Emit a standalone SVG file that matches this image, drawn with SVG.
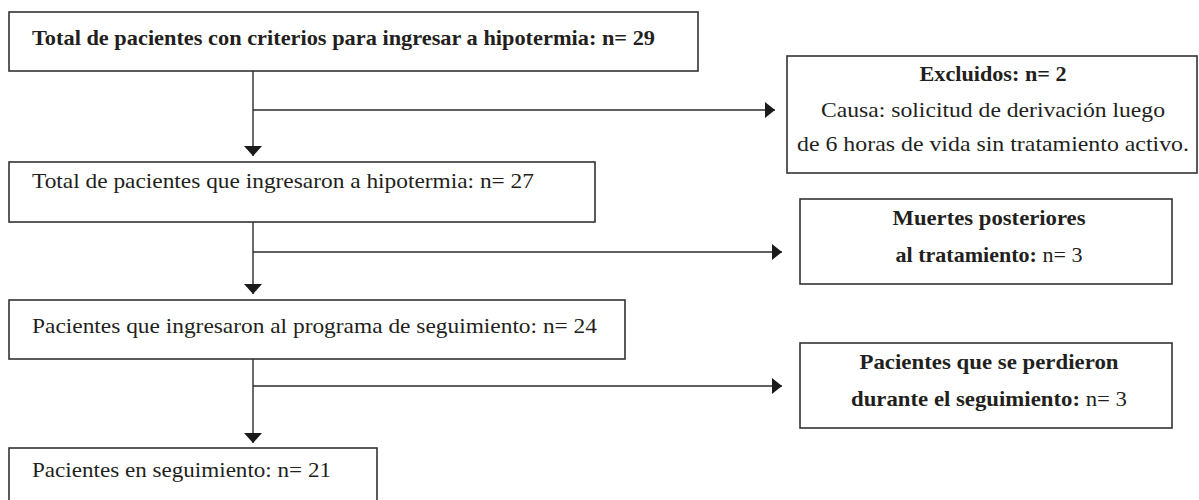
<svg xmlns="http://www.w3.org/2000/svg" width="1199" height="500" viewBox="0 0 1199 500">
<style>
  .box { fill: #ffffff; stroke: #333333; stroke-width: 1.6; }
  .t { font-family: "Liberation Serif", "Times New Roman", serif; font-size: 21px; fill: #231f20; }
  .b { font-weight: bold; }
  .m { text-anchor: middle; }
  .c { stroke: #2b2b2b; stroke-width: 1.4; fill: none; }
</style>
<defs>
  <marker id="ad" markerUnits="userSpaceOnUse" markerWidth="18" markerHeight="10" refX="9" refY="10" orient="0" viewBox="0 0 18 10">
    <path d="M0,0 L18,0 L9,10 Z" fill="#1a1a1a"/>
  </marker>
  <marker id="ar" markerUnits="userSpaceOnUse" markerWidth="10" markerHeight="16" refX="10" refY="8" orient="0" viewBox="0 0 10 16">
    <path d="M0,0 L10,8 L0,16 Z" fill="#1a1a1a"/>
  </marker>
</defs>
<rect width="1199" height="500" fill="#ffffff"/>

<g id="connectors">
  <line class="c" x1="253" y1="71" x2="253" y2="156" marker-end="url(#ad)"/>
  <line class="c" x1="253" y1="110" x2="775" y2="110" marker-end="url(#ar)"/>
  <line class="c" x1="253" y1="222" x2="253" y2="294" marker-end="url(#ad)"/>
  <line class="c" x1="253" y1="252" x2="782" y2="252" marker-end="url(#ar)"/>
  <line class="c" x1="253" y1="359" x2="253" y2="443" marker-end="url(#ad)"/>
  <line class="c" x1="253" y1="386" x2="782" y2="386" marker-end="url(#ar)"/>
</g>

<g id="total-criterios">
  <rect class="box" x="9" y="12" width="689" height="59"/>
  <text class="t b" x="32" y="45" textLength="623" lengthAdjust="spacingAndGlyphs">Total de pacientes con criterios para ingresar a hipotermia: n= 29</text>
</g>

<g id="excluidos">
  <rect class="box" x="787" y="56" width="410" height="117"/>
  <text class="t b m" x="993" y="81" textLength="147" lengthAdjust="spacingAndGlyphs">Excluidos: n= 2</text>
  <text class="t m" x="993" y="117" textLength="344" lengthAdjust="spacingAndGlyphs">Causa: solicitud de derivación luego</text>
  <text class="t m" x="993" y="151" textLength="392" lengthAdjust="spacingAndGlyphs">de 6 horas de vida sin tratamiento activo.</text>
</g>

<g id="ingresaron-hipotermia">
  <rect class="box" x="9" y="162" width="586" height="60"/>
  <text class="t" x="32" y="188" textLength="502" lengthAdjust="spacingAndGlyphs">Total de pacientes que ingresaron a hipotermia: n= 27</text>
</g>

<g id="muertes">
  <rect class="box" x="800" y="199" width="372" height="85"/>
  <text class="t b m" x="989" y="225" textLength="193" lengthAdjust="spacingAndGlyphs">Muertes posteriores</text>
  <text class="t m" x="989" y="262" textLength="187" lengthAdjust="spacingAndGlyphs"><tspan class="b">al tratamiento:</tspan> n= 3</text>
</g>

<g id="programa-seguimiento">
  <rect class="box" x="9" y="300" width="616" height="59"/>
  <text class="t" x="32" y="333" textLength="565" lengthAdjust="spacingAndGlyphs">Pacientes que ingresaron al programa de seguimiento: n= 24</text>
</g>

<g id="perdidos">
  <rect class="box" x="800" y="343" width="372" height="85"/>
  <text class="t b m" x="989" y="369" textLength="259" lengthAdjust="spacingAndGlyphs">Pacientes que se perdieron</text>
  <text class="t m" x="989" y="406" textLength="276" lengthAdjust="spacingAndGlyphs"><tspan class="b">durante el seguimiento:</tspan> n= 3</text>
</g>

<g id="en-seguimiento">
  <rect class="box" x="9" y="448" width="368" height="60"/>
  <text class="t" x="32" y="477" textLength="299" lengthAdjust="spacingAndGlyphs">Pacientes en seguimiento: n= 21</text>
</g>
</svg>
